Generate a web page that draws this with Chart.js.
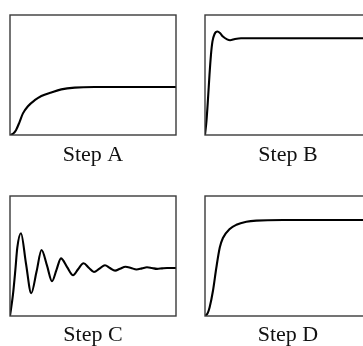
<!DOCTYPE html>
<html><head><meta charset="utf-8">
<script src="https://cdn.jsdelivr.net/npm/chart.js@4/dist/chart.umd.min.js"></script>
<style>
html,body{margin:0;padding:0;background:#fff;width:363px;height:346px;overflow:hidden;position:relative}
.c{position:absolute}
</style></head><body>
<div class="c" style="left:0;top:0;width:186px;height:175px"><canvas id="cA"></canvas></div>
<div class="c" style="left:195px;top:0;width:186px;height:175px"><canvas id="cB"></canvas></div>
<div class="c" style="left:0;top:181px;width:186px;height:175px"><canvas id="cC"></canvas></div>
<div class="c" style="left:195px;top:181px;width:186px;height:175px"><canvas id="cD"></canvas></div>
<script>
// Panel titles
const titles = ["Step A", "Step B", "Step C", "Step D"];

// Step A
const timeA = [0,0.18,0.36,0.58,0.78,1.08,1.49,1.89,2.49,3.09,3.90,5.10,10];
const valuesA = [0,0.01,0.04,0.11,0.18,0.24,0.29,0.325,0.355,0.38,0.395,0.40,0.40];

// Step B
const timeB = [0,0.09,0.18,0.27,0.36,0.45,0.57,0.75,0.90,1.08,1.33,1.51,1.81,2.17,10];
const valuesB = [0,0.12,0.30,0.50,0.67,0.78,0.84,0.862,0.85,0.82,0.797,0.79,0.80,0.806,0.806];

// Step C
const timeC = [0,0.18,0.32,0.44,0.66,0.96,1.28,1.60,1.90,2.23,2.53,2.80,3.07,3.43,3.80,4.10,4.43,4.76,5.06,5.39,5.72,6.02,6.33,6.63,6.96,7.29,7.62,7.95,8.25,8.55,8.86,9.16,9.46,10];
const valuesC = [0,0.18,0.38,0.57,0.69,0.44,0.19,0.37,0.55,0.42,0.29,0.385,0.48,0.41,0.34,0.39,0.44,0.40,0.367,0.395,0.423,0.40,0.378,0.394,0.41,0.40,0.388,0.397,0.406,0.40,0.393,0.397,0.40,0.40];

// Step D
const timeD = [0,0.15,0.28,0.48,0.68,0.89,1.08,1.49,1.89,2.49,3.09,4.70,10];
const valuesD = [0,0.02,0.073,0.21,0.40,0.57,0.65,0.725,0.76,0.785,0.795,0.80,0.80];

const frame = {
  id: 'frame',
  afterDatasetsDraw(chart) {
    const a = chart.chartArea, ctx = chart.ctx;
    ctx.save();
    ctx.strokeStyle = '#3a3a3a';
    ctx.lineWidth = 1.4;
    ctx.strokeRect(a.left, a.top, a.right - a.left, a.bottom - a.top);
    ctx.restore();
  }
};

function make(id, title, t, v, titlePad) {
  new Chart(document.getElementById(id), {
    type: 'line',
    data: { datasets: [{
      data: t.map((x, i) => ({ x: x, y: v[i] })),
      borderColor: '#000', borderWidth: 2.1, pointRadius: 0,
      cubicInterpolationMode: 'monotone', fill: false
    }]},
    options: {
      responsive: true, maintainAspectRatio: false, animation: false,
      layout: { padding: { left: 10, right: 10, top: 15, bottom: 13.6 - titlePad } },
      plugins: {
        legend: { display: false }, tooltip: { enabled: false },
        title: { display: true, text: title, position: 'bottom', color: '#111',
          font: { family: '"Liberation Serif", "DejaVu Serif", serif', size: 22, weight: 'normal', lineHeight: 1.2 },
          padding: { top: titlePad, bottom: 0 } }
      },
      scales: {
        x: { type: 'linear', min: 0, max: 10, display: false },
        y: { min: 0, max: 1, display: false }
      }
    },
    plugins: [frame]
  });
}
make('cA', titles[0], timeA, valuesA, 7.5);
make('cB', titles[1], timeB, valuesB, 7.5);
make('cC', titles[2], timeC, valuesC, 5.8);
make('cD', titles[3], timeD, valuesD, 5.8);
</script>
</body></html>
